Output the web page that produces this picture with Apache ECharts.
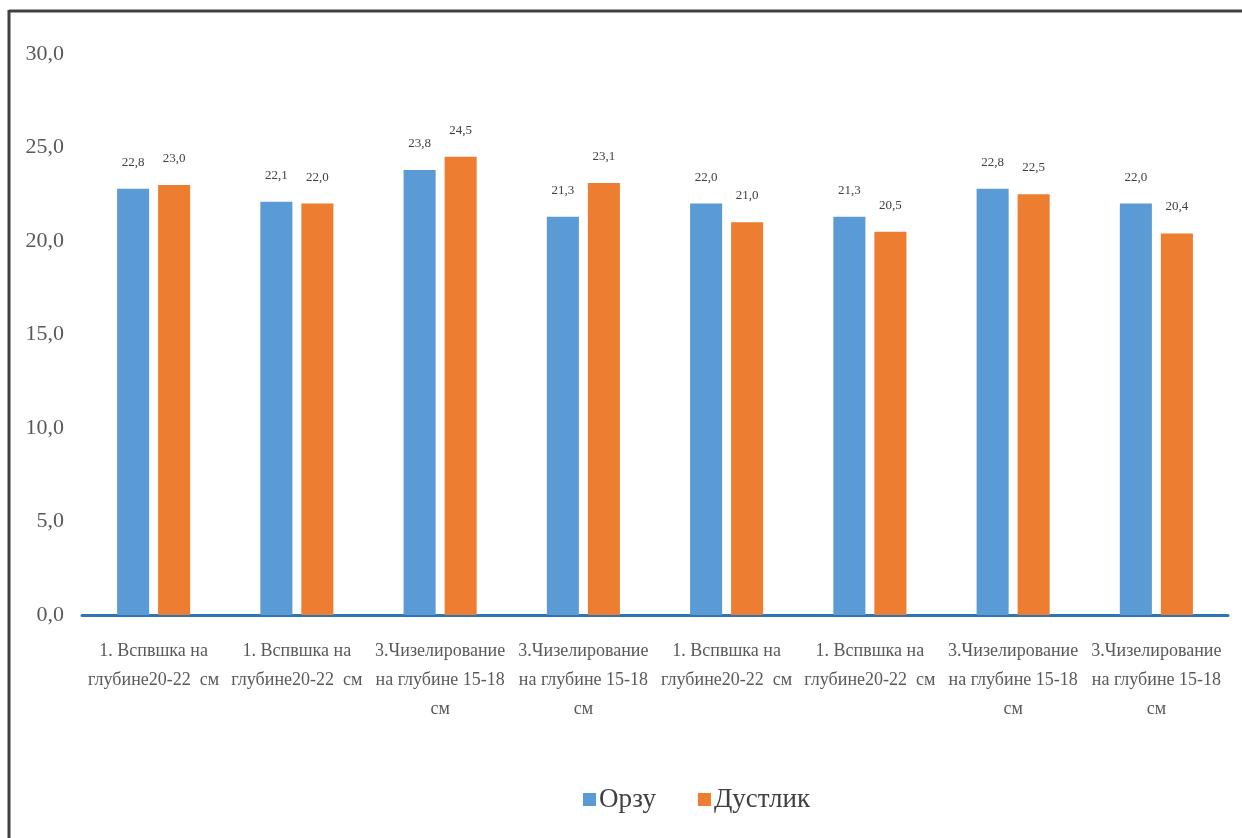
<!DOCTYPE html>
<html>
<head>
<meta charset="utf-8">
<script src="https://cdn.jsdelivr.net/npm/echarts@6/dist/echarts.min.js"></script>
<style>
  html, body { margin: 0; padding: 0; background: #fff; }
  #chart { width: 1242px; height: 838px; }
</style>
</head>
<body>
<div id="chart"></div>
<script>
// Treatment categories along the x axis
const categories = [
  '1. Вспвшка на\nглубине20-22  см',
  '1. Вспвшка на\nглубине20-22  см',
  '3.Чизелирование\nна глубине 15-18\nсм',
  '3.Чизелирование\nна глубине 15-18\nсм',
  '1. Вспвшка на\nглубине20-22  см',
  '1. Вспвшка на\nглубине20-22  см',
  '3.Чизелирование\nна глубине 15-18\nсм',
  '3.Чизелирование\nна глубине 15-18\nсм'
];
const seriesNames = ['Орзу', 'Дустлик'];
const orzuValues = [22.8, 22.1, 23.8, 21.3, 22.0, 21.3, 22.8, 22.0];
const dustlikValues = [23.0, 22.0, 24.5, 23.1, 21.0, 20.5, 22.5, 20.4];
const yTicks = { min: 0, max: 30, interval: 5 };

const FONT = '"Liberation Serif", "DejaVu Serif", serif';
const fmt = v => Number(v).toFixed(1).replace('.', ',');

const chart = echarts.init(document.getElementById('chart'), null, { renderer: 'canvas' });

const labelStyle = {
  show: true,
  position: 'top',
  distance: 20,
  fontFamily: FONT,
  fontSize: 13,
  color: '#404040',
  formatter: p => fmt(p.value)
};

chart.setOption({
  backgroundColor: '#ffffff',
  animation: false,
  graphic: [
    { type: 'line', shape: { x1: 9, y1: 11, x2: 1242, y2: 11 }, style: { stroke: '#404040', lineWidth: 3 } },
    { type: 'line', shape: { x1: 9, y1: 10, x2: 9, y2: 838 }, style: { stroke: '#404040', lineWidth: 3 } }
  ],
  grid: { left: 82, right: 14, top: 54, bottom: 223, containLabel: false },
  legend: {
    bottom: 20,
    left: 578,
    itemWidth: 13,
    itemHeight: 13,
    itemGap: 42,
    icon: 'rect',
    textStyle: { fontFamily: FONT, fontSize: 27, color: '#404040', padding: [0, 0, 0, -2] },
    data: seriesNames
  },
  xAxis: {
    type: 'category',
    data: categories,
    axisLine: { show: true, lineStyle: { color: '#2E75B6', width: 3 } },
    axisTick: { show: false },
    axisLabel: {
      interval: 0,
      margin: 22,
      fontFamily: FONT,
      fontSize: 18,
      lineHeight: 29,
      color: '#595959'
    }
  },
  yAxis: {
    type: 'value',
    min: yTicks.min,
    max: yTicks.max,
    interval: yTicks.interval,
    splitLine: { show: false },
    axisLine: { show: false },
    axisTick: { show: false },
    axisLabel: {
      margin: 18,
      fontFamily: FONT,
      fontSize: 22,
      color: '#595959',
      padding: [5, 0, 0, 0],
      formatter: v => fmt(v)
    }
  },
  series: [
    {
      name: seriesNames[0],
      type: 'bar',
      data: orzuValues,
      barGap: '28%',
      barCategoryGap: '49%',
      itemStyle: { color: '#5B9BD5' },
      label: labelStyle
    },
    {
      name: seriesNames[1],
      type: 'bar',
      data: dustlikValues,
      barGap: '28%',
      barCategoryGap: '49%',
      itemStyle: { color: '#ED7D31' },
      label: labelStyle
    }
  ]
});
</script>
</body>
</html>
